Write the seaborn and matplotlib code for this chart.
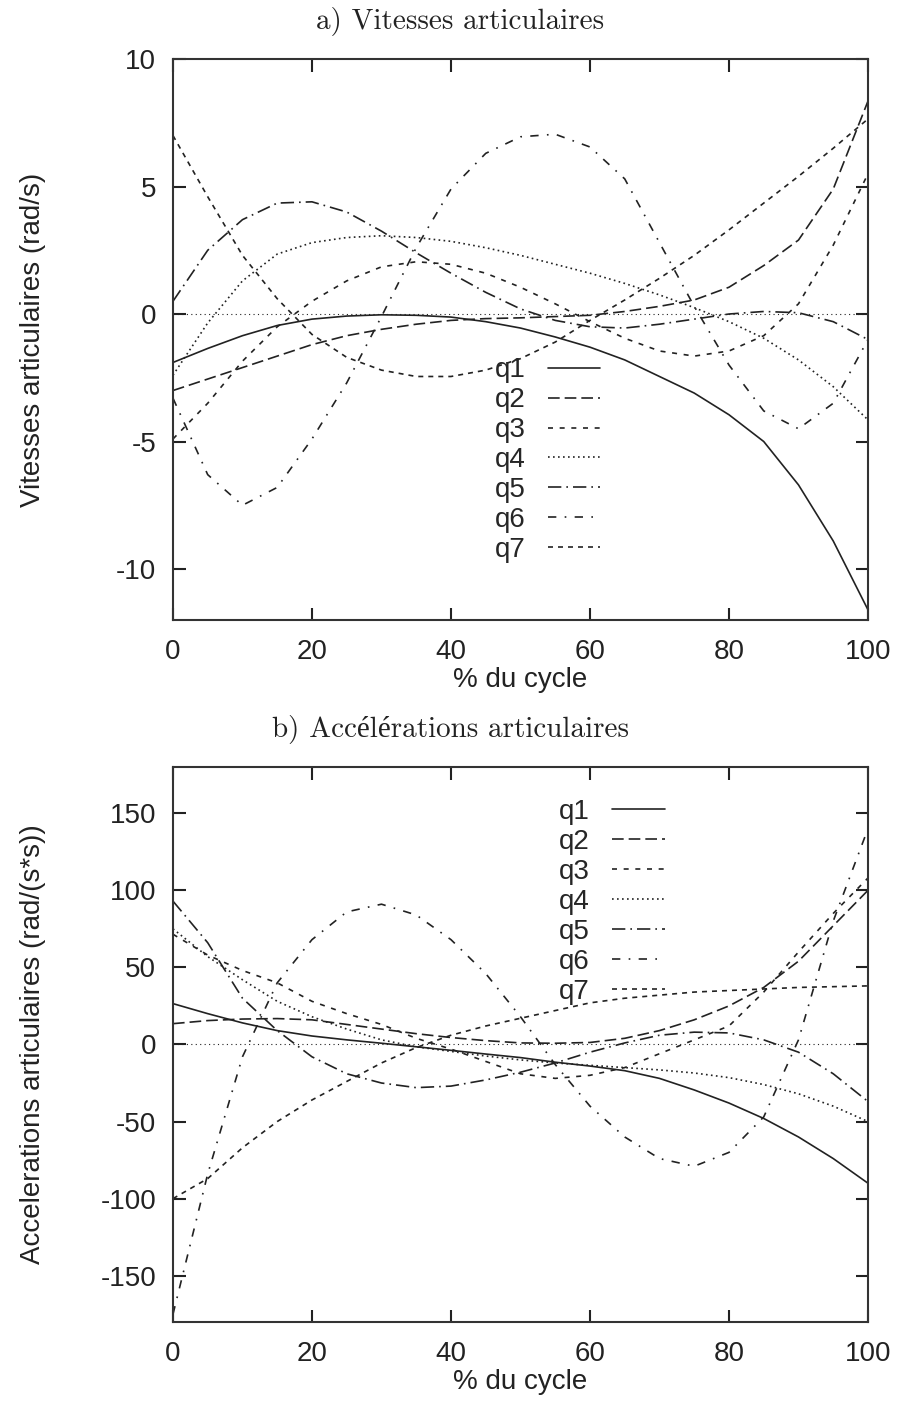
import pandas as pd
import numpy as np
import matplotlib
matplotlib.use("Agg")
import matplotlib.pyplot as plt
import seaborn as sns

# % du cycle
cycle = [0, 5, 10, 15, 20, 25, 30, 35, 40, 45, 50, 55, 60, 65, 70, 75, 80, 85, 90, 95, 100]
labels = ['q1', 'q2', 'q3', 'q4', 'q5', 'q6', 'q7']

# a) vitesses articulaires (rad/s)
vit_q1 = [-1.9, -1.35, -0.85, -0.45, -0.2, -0.08, -0.03, -0.05, -0.12, -0.3, -0.55,
          -0.9, -1.3, -1.8, -2.45, -3.1, -3.95, -5.0, -6.7, -8.9, -11.6]
vit_q2 = [-3.0, -2.55, -2.1, -1.65, -1.2, -0.85, -0.6, -0.4, -0.25, -0.18, -0.15,
          -0.1, -0.05, 0.1, 0.3, 0.55, 1.05, 1.9, 2.9, 4.9, 8.35]
vit_q3 = [-4.9, -3.5, -1.85, -0.5, 0.5, 1.3, 1.85, 2.05, 1.95, 1.6, 1.05,
          0.4, -0.3, -0.95, -1.45, -1.65, -1.45, -0.85, 0.4, 2.7, 5.5]
vit_q4 = [-2.4, -0.35, 1.3, 2.35, 2.8, 3.0, 3.07, 3.0, 2.85, 2.6, 2.3,
          1.95, 1.6, 1.2, 0.75, 0.25, -0.3, -0.95, -1.8, -2.85, -4.15]
vit_q5 = [0.5, 2.5, 3.7, 4.35, 4.4, 4.0, 3.25, 2.4, 1.6, 0.85, 0.2,
          -0.25, -0.5, -0.55, -0.4, -0.2, 0.0, 0.1, 0.05, -0.3, -1.0]
vit_q6 = [-3.3, -6.3, -7.5, -6.8, -4.9, -2.7, -0.1, 2.6, 4.9, 6.3, 6.95,
          7.05, 6.55, 5.3, 2.8, 0.3, -2.0, -3.8, -4.5, -3.5, -1.0]
vit_q7 = [7.0, 4.6, 2.3, 0.6, -0.8, -1.7, -2.2, -2.45, -2.45, -2.2, -1.75,
          -1.1, -0.25, 0.55, 1.4, 2.3, 3.3, 4.35, 5.4, 6.5, 7.65]

# b) accelerations articulaires (rad/(s*s))
acc_q1 = [26.5, 20, 14, 9, 5.5, 3, 0.8, -1.5, -3.8, -6.2, -8.5,
          -11.5, -14, -17, -22, -29.5, -38, -48, -60, -74, -90]
acc_q2 = [13.5, 15.5, 16.5, 16.8, 16, 13, 10, 7, 4.5, 2.5, 1,
          0.8, 1.3, 4, 9, 16, 25, 37, 54, 77, 100]
acc_q3 = [71.5, 58, 48, 40, 28, 20, 13, 4, -3, -11, -19,
          -22, -20, -15, -6, 3, 12, 34, 60, 85, 108]
acc_q4 = [75, 57, 42, 28, 18, 10, 3, -1.5, -4.5, -7.5, -10,
          -12, -13.5, -15, -16.5, -18.5, -21.5, -26, -32, -40, -50]
acc_q5 = [93, 66, 30, 9, -8, -19, -25, -28, -27, -23, -18,
          -12, -5, 1, 6, 8, 7.5, 3, -5, -19, -37]
acc_q6 = [-175, -84, -8, 40, 68, 86, 91, 84, 68, 46, 18,
          -13, -40, -60, -74, -79, -70, -47, 3, 80, 140]
acc_q7 = [-100, -87, -67, -50, -36, -24, -12, -2, 6, 12, 17,
          22, 27, 30, 32, 34, 35, 36, 37, 37.5, 38]

vitesses = [vit_q1, vit_q2, vit_q3, vit_q4, vit_q5, vit_q6, vit_q7]
accels = [acc_q1, acc_q2, acc_q3, acc_q4, acc_q5, acc_q6, acc_q7]

# gnuplot-like line types
styles = ['-', (0, (7, 3)), (0, (3, 4)), (0, (1, 2)),
          (0, (8, 3, 1, 3)), (0, (5, 5, 1, 5)), (0, (3, 3))]

sns.set_style('ticks')
plt.rcParams['font.family'] = ['Liberation Sans', 'DejaVu Sans']
plt.rcParams['axes.unicode_minus'] = False
ink = '#222222'

fig = plt.figure(figsize=(8.99, 14.05), dpi=100)
ax1 = fig.add_axes([0.1924, 0.5587, 0.7731, 0.3993])
ax2 = fig.add_axes([0.1924, 0.0591, 0.7731, 0.3950])


def draw(ax, series, ylim, yticks, ylabel, leg_anchor):
    for lab, vals, ls in zip(labels, series, styles):
        df = pd.DataFrame({'x': cycle, 'y': vals})
        sns.lineplot(data=df, x='x', y='y', ax=ax, color=ink, lw=1.2,
                     linestyle=ls, label=lab, legend=False)
    ax.axhline(0, color=ink, lw=0.8, linestyle=(0, (1, 3)))
    ax.set_xlim(0, 100)
    ax.set_ylim(*ylim)
    ax.set_xticks([0, 20, 40, 60, 80, 100])
    ax.set_yticks(yticks)
    ax.tick_params(direction='in', length=9, width=1.5, top=True, right=True,
                   labelsize=20, colors=ink, pad=12)
    ax.tick_params(axis='x', pad=14)
    for s in ax.spines.values():
        s.set_linewidth(1.5)
        s.set_color('#333333')
    ax.set_xlabel('% du cycle', fontsize=20, color=ink, labelpad=1)
    ax.set_ylabel(ylabel, fontsize=20, color=ink)
    ax.yaxis.set_label_coords(-0.182, 0.5)
    ax.legend(loc='upper right', bbox_to_anchor=leg_anchor, frameon=False,
              markerfirst=False, fontsize=20, handlelength=1.9,
              handletextpad=0.8, labelspacing=0.14, borderpad=0,
              borderaxespad=0)


draw(ax1, vitesses, (-12, 10), [-10, -5, 0, 5, 10],
     'Vitesses articulaires (rad/s)', (0.615, 0.468))
draw(ax2, accels, (-180, 180), [-150, -100, -50, 0, 50, 100, 150],
     'Accelerations articulaires (rad/(s*s))', (0.708, 0.942))

fig.text(460 / 899, 1 - 22 / 1405, 'a) Vitesses articulaires', ha='center', va='center',
         fontsize=21, color=ink, family=['cmr10', 'Liberation Serif'])
fig.text(451 / 899, 1 - 730 / 1405, 'b) Accélérations articulaires', ha='center', va='center',
         fontsize=21, color=ink, family=['cmr10', 'Liberation Serif'])

fig.savefig('out.png', dpi=100, facecolor='white')
